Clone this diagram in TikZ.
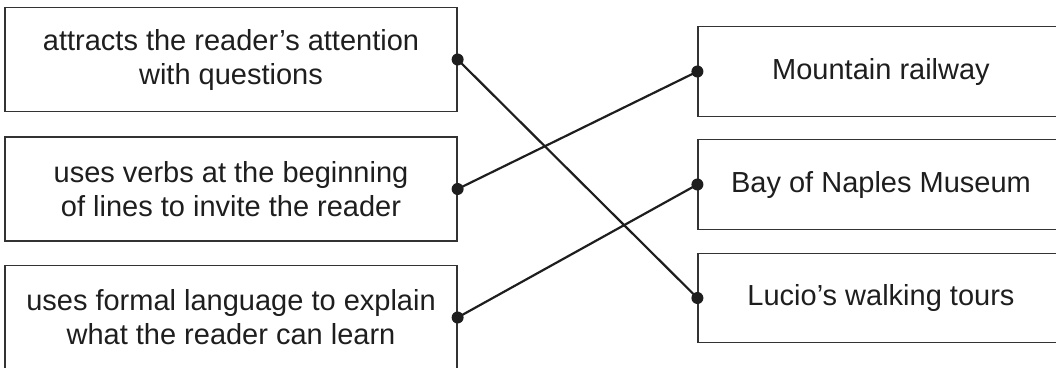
\documentclass[tikz,border=0pt]{standalone}
\usepackage{fontspec}
\setmainfont{Liberation Sans}
\definecolor{boxline}{HTML}{333333}
\definecolor{ink}{HTML}{1E1E1E}
\begin{document}
\begin{tikzpicture}[x=1pt,y=-1pt,
  box/.style={draw=boxline,line width=1.2pt,rectangle,inner sep=0pt,align=center,
    text=ink,font=\fontsize{29}{34}\selectfont},
  leftbox/.style={box,minimum width=452pt,minimum height=104pt},
  rightbox/.style={box,minimum width=366pt,minimum height=89.5pt},
  link/.style={draw=ink,line width=2.2pt},
  dot/.style={fill=ink,circle,inner sep=0pt,minimum size=12pt}]
\useasboundingbox (0,0) rectangle (1056,367);
\begin{scope}
\clip (0,0) rectangle (1056,367);
\node[leftbox] (L1) at (231,59.5) {attracts the reader’s attention\\with questions};
\node[leftbox] (L2) at (231,189) {uses verbs at the beginning\\of lines to invite the reader};
\node[leftbox] (L3) at (231,317.5) {uses formal language to explain\\what the reader can learn};
\node[rightbox] (R1) at (881,71.5) {Mountain railway};
\node[rightbox] (R2) at (881,184.5) {Bay of Naples Museum};
\node[rightbox] (R3) at (881,298) {Lucio’s walking tours};
\end{scope}
\draw[link] (L1.east) -- (R3.west);
\draw[link] (L2.east) -- (R1.west);
\draw[link] (L3.east) -- (R2.west);
\foreach \n in {L1,L2,L3} \node[dot] (d\n) at (\n.east) {};
\foreach \n in {R1,R2,R3} \node[dot] (d\n) at (\n.west) {};
\end{tikzpicture}
\end{document}
